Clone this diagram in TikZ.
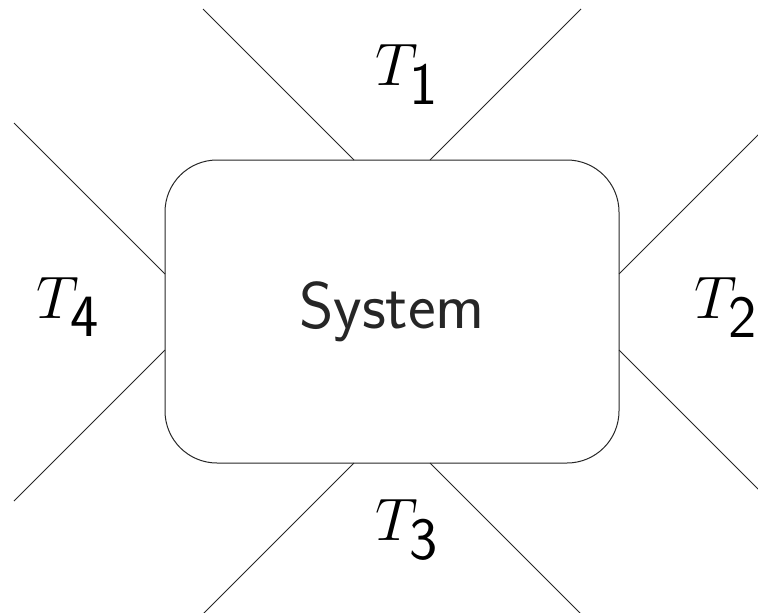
\RequirePackage{fix-cm}
\documentclass[tikz,border=0pt]{standalone}
\begin{document}
\begin{tikzpicture}[x=1pt,y=-1pt,
  line/.style={line width=1pt,black!85},
  sysbox/.style={draw,line width=1pt,black!85,rounded corners=52pt,minimum width=454pt,minimum height=303pt,inner sep=0pt},
  tlabel/.style={inner sep=0pt,font=\fontsize{60}{70}\selectfont}]
\useasboundingbox (0,0) rectangle (758,613);
\clip (0,0) rectangle (758,613);
\node[sysbox,font=\fontsize{66}{76}\selectfont\sffamily] (sys) at (392,311.5) {\raisebox{-3pt}{System}};
% attachment points on the box
\coordinate (a1) at (354,160);
\coordinate (a2) at (430,160);
\coordinate (b1) at (619,274);
\coordinate (b2) at (619,350);
\coordinate (c1) at (354,463);
\coordinate (c2) at (430,463);
\coordinate (d1) at (165,274);
\coordinate (d2) at (165,350);
% free ends
\coordinate (ea1) at (203,9);
\coordinate (ea2) at (581,9);
\coordinate (eb1) at (770,123);
\coordinate (eb2) at (770,501);
\coordinate (ec1) at (203,614);
\coordinate (ec2) at (581,614);
\coordinate (ed1) at (14,123);
\coordinate (ed2) at (14,501);
\draw[line] (a1) -- (ea1);
\draw[line] (a2) -- (ea2);
\draw[line] (b1) -- (eb1);
\draw[line] (b2) -- (eb2);
\draw[line] (c1) -- (ec1);
\draw[line] (c2) -- (ec2);
\draw[line] (d1) -- (ed1);
\draw[line] (d2) -- (ed2);
\node[tlabel,anchor=base west] (t1) at (375,85) {$T_{\textsf{1}}$};
\node[tlabel,anchor=base west] (t2) at (694,318) {$T_{\textsf{2}}$};
\node[tlabel,anchor=base west] (t3) at (375,540) {$T_{\textsf{3}}$};
\node[tlabel,anchor=base west] (t4) at (36,318) {$T_{\textsf{4}}$};
\end{tikzpicture}
\end{document}
